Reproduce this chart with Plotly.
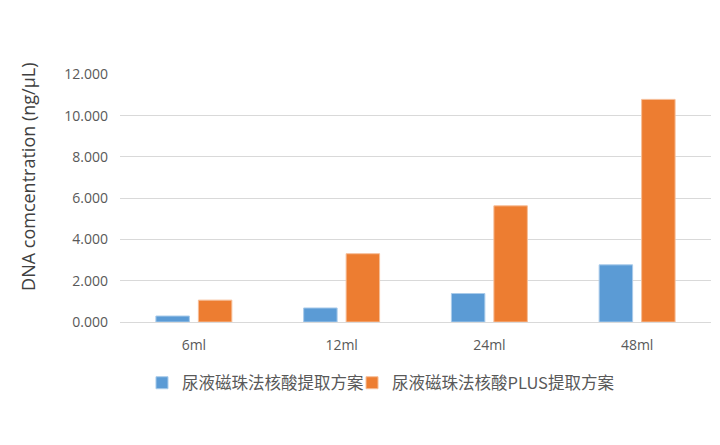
import plotly.graph_objects as go

categories = ["6ml", "12ml", "24ml", "48ml"]
series_names = ["尿液磁珠法核酸提取方案", "尿液磁珠法核酸PLUS提取方案"]
standard_values = [0.29, 0.68, 1.38, 2.77]
plus_values = [1.06, 3.31, 5.63, 10.79]
y_ticks = [0, 2, 4, 6, 8, 10, 12]
y_title = "DNA comcentration (ng/μL)"

colors = ["#5B9BD5", "#ED7D31"]
line_colors = ["#A9CBEA", "#F6BE98"]
legend_ids = ["legend", "legend2"]

fig = go.Figure()
for name, vals, c, lc, lg in zip(series_names, [standard_values, plus_values], colors, line_colors, legend_ids):
    fig.add_trace(go.Bar(
        x=categories, y=vals, name=name, legend=lg,
        marker=dict(color=c, line=dict(color=lc, width=1)),
    ))

fig.add_annotation(
    text=y_title, textangle=-90, xref="paper", yref="paper",
    x=-0.1557, y=0.585, xanchor="center", yanchor="middle", showarrow=False,
    font=dict(family="Open Sans, sans-serif", size=18, color="#404040"),
)

legend_font = dict(family="Noto Sans CJK SC, Open Sans, sans-serif", size=16.5, color="#595959")

fig.update_layout(
    width=720, height=445,
    margin=dict(l=120, r=9, t=74, b=123),
    paper_bgcolor="white", plot_bgcolor="white",
    barmode="group", bargap=0.425, bargroupgap=0.212,
    font=dict(family="Open Sans, Noto Sans CJK SC, sans-serif", color="#595959"),
    showlegend=True,
    legend=dict(
        orientation="h", x=0.0372, xanchor="left", y=-0.246, yanchor="middle",
        font=legend_font, itemwidth=30, bgcolor="rgba(0,0,0,0)",
    ),
    legend2=dict(
        orientation="h", x=0.3926, xanchor="left", y=-0.246, yanchor="middle",
        font=legend_font, itemwidth=30, bgcolor="rgba(0,0,0,0)",
    ),
    xaxis=dict(
        showgrid=False, showline=False, ticks="", ticklabelstandoff=13,
        tickfont=dict(size=14, color="#595959"),
    ),
    yaxis=dict(
        range=[0, 12.02], tickvals=y_ticks, tickformat=".3f",
        showgrid=True, gridcolor="#D9D9D9", gridwidth=1,
        zeroline=True, zerolinecolor="#D9D9D9", zerolinewidth=1,
        showline=False, ticks="", ticklen=0, ticklabelstandoff=11,
        automargin=False,
        tickfont=dict(size=14, color="#595959"),
    ),
)

fig.write_html("out.html", post_script="document.body.style.margin='0';",
               config={"displayModeBar": False})
